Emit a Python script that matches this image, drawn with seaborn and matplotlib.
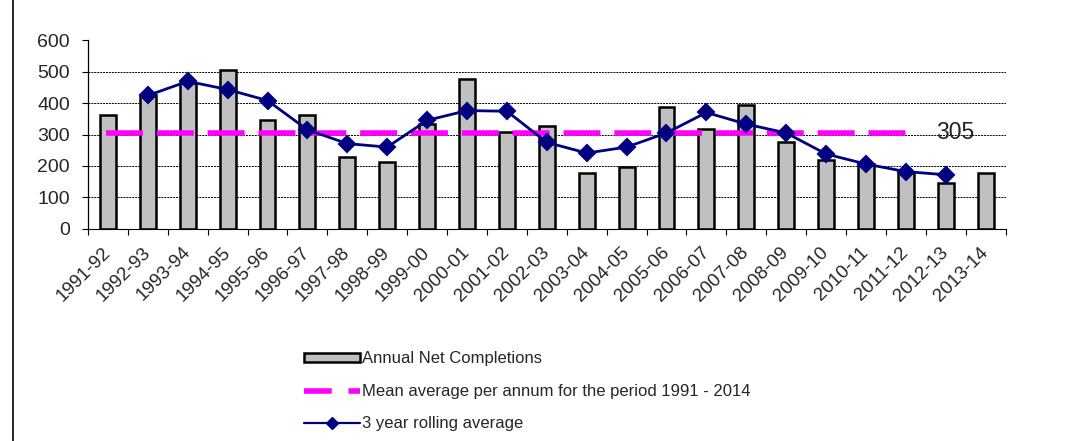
import matplotlib
matplotlib.use("Agg")
import matplotlib.pyplot as plt
import seaborn as sns
import pandas as pd
import numpy as np
from matplotlib.patches import Patch
from matplotlib.lines import Line2D

years = ["1991-92", "1992-93", "1993-94", "1994-95", "1995-96", "1996-97",
         "1997-98", "1998-99", "1999-00", "2000-01", "2001-02", "2002-03",
         "2003-04", "2004-05", "2005-06", "2006-07", "2007-08", "2008-09",
         "2009-10", "2010-11", "2011-12", "2012-13", "2013-14"]
completions = [361, 424, 464, 506, 347, 362, 228, 214, 333, 477, 309, 328,
               177, 198, 386, 317, 394, 275, 220, 207, 177, 146, 177]
rolling = [np.nan, 424, 469, 443, 408, 315, 271, 260, 345, 376, 374, 275,
           241, 260, 305, 370, 333, 305, 238, 206, 182, 172, np.nan]
mean_value = 305
mean_start, mean_end = "1991-92", "2011-12"
yticks = [0, 100, 200, 300, 400, 500, 600]

sns.set_style("white")
plt.rcParams["font.family"] = ["Liberation Sans", "DejaVu Sans"]

df = pd.DataFrame({"year": years, "completions": completions, "rolling": rolling})

fig = plt.figure(figsize=(10.86, 4.41), dpi=100)
ax = fig.add_axes([0.081, 0.481, 0.845, 0.428])

sns.barplot(data=df, x="year", y="completions", order=years, ax=ax,
            color="#C0C0C0", width=0.4, edgecolor="black", linewidth=1.8,
            saturation=1, errorbar=None, zorder=2)

x0 = years.index(mean_start)
x1 = years.index(mean_end)
mline = ax.hlines(mean_value, x0 - 0.05, x1 + 0.1, colors="#FF00FF",
                  linewidth=4, zorder=3)
mline.set_linestyle((0, (6.65, 2.5)))

sns.pointplot(data=df, x="year", y="rolling", order=years, ax=ax,
              color="#000080", marker="D", markersize=8, linewidth=2.0,
              errorbar=None, zorder=4)

ax.text(x1 + 1.23, mean_value, str(mean_value), fontsize=16.5, va="center",
        ha="center", color="#222222", zorder=5)

ax.set_xlim(-0.5, len(years) - 0.5)
ax.set_ylim(0, 600)
ax.set_yticks(yticks)
ax.set_yticklabels([str(v) for v in yticks], fontsize=14)
ax.set_xlabel("")
ax.set_ylabel("")
ax.set_xticks(range(len(years)))
ax.set_xticklabels(years, rotation=45, ha="right", va="center",
                   rotation_mode="anchor", fontsize=13.5)
ax.set_xticks(np.arange(-0.5, len(years), 1.0), minor=True)
ax.tick_params(axis="x", which="major", length=0, pad=15)
ax.tick_params(axis="x", which="minor", length=4, width=0.8, color="black", direction="out", bottom=True)
ax.tick_params(axis="y", length=4, width=0.8, color="black", direction="out", left=True, pad=9)

ax.yaxis.grid(True, linestyle=(0, (2, 1)), color="black", linewidth=0.7, zorder=0)
ax.set_axisbelow(True)
for v, gl in zip(ax.get_yticks(), ax.get_ygridlines()):
    if v in (0, 600):
        gl.set_visible(False)

for s in ["top", "right"]:
    ax.spines[s].set_visible(False)
ax.spines["left"].set_color("black")
ax.spines["left"].set_linewidth(0.9)
ax.spines["bottom"].set_color("black")
ax.spines["bottom"].set_linewidth(0.8)

# page border line at left
fig.add_artist(Line2D([13 / 1086, 13 / 1086], [0, 1], color="black", linewidth=1.2))

handles = [
    Patch(facecolor="#C0C0C0", edgecolor="black", linewidth=1.8),
    Line2D([], [], color="#FF00FF", linewidth=4, linestyle=(0, (5, 3))),
    Line2D([], [], color="#000080", linewidth=1.6, marker="D", markersize=6),
]
labels = ["Annual Net Completions",
          "Mean average per annum for the period 1991 - 2014",
          "3 year rolling average"]
fig.legend(handles, labels, loc="upper left", bbox_to_anchor=(0.272, 0.222),
           frameon=False, fontsize=12, handlelength=3.4, handleheight=0.5,
           handletextpad=0.1, labelspacing=1.05, borderpad=0)

fig.savefig("out.png", dpi=100)
